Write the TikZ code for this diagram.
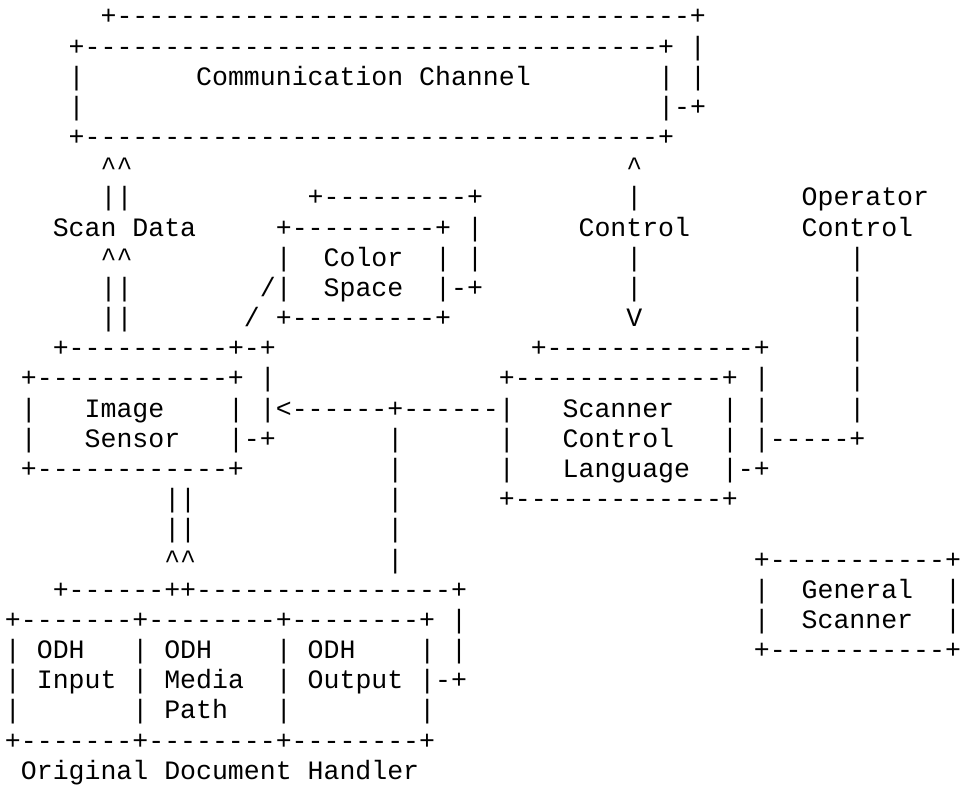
\documentclass[tikz,border=0pt]{standalone}
\usepackage{fontspec}
\setmonofont{Liberation Mono}
\usepackage{tikz}

% runs of ascii strokes
\newcommand\dashes[1]{\foreach\i in {1,...,#1}{-}}
\newcommand\caret{\textasciicircum}

\tikzset{asc/.style={anchor=base west, inner sep=0pt, outer sep=0pt,
    font=\ttfamily\fontsize{13.33pt}{15pt}\selectfont}}

\begin{document}
\begin{tikzpicture}[x=8pt, y=-15.15pt]

	\fill[white] (-0.3125,-0.825) rectangle (59.75,25.083);

	%--- COMMUNICATION CHANNEL --------------
	\node[asc] (cc0) at (6,0) {+\dashes{36}+};
	\node[asc] (cc1) at (4,1) {+\dashes{36}+ |};
	\node[asc] (cc2l) at (4,2) {|};
	\node[asc] (comm) at (12,2) {Communication Channel};
	\node[asc] (cc2r) at (41,2) {| |};
	\node[asc] (cc3l) at (4,3) {|};
	\node[asc] (cc3r) at (41,3) {|-+};
	\node[asc] (cc4) at (4,4) {+\dashes{36}+};

	%--- SCAN DATA --------------------------
	\node[asc] (sd5) at (6,5) {\caret\caret};
	\node[asc] (sd6) at (6,6) {||};
	\node[asc] (scandata) at (3,7) {Scan Data};
	\node[asc] (sd8) at (6,8) {\caret\caret};
	\node[asc] (sd9) at (6,9) {||};
	\node[asc] (sd10) at (6,10) {||};

	%--- COLOR SPACE ------------------------
	\node[asc] (cs6) at (19,6) {+\dashes{9}+};
	\node[asc] (cs7) at (17,7) {+\dashes{9}+ |};
	\node[asc] (cs8l) at (17,8) {|};
	\node[asc] (color) at (20,8) {Color};
	\node[asc] (cs8r) at (27,8) {| |};
	\node[asc] (cs9l) at (16,9) {/|};
	\node[asc] (space) at (20,9) {Space};
	\node[asc] (cs9r) at (27,9) {|-+};
	\node[asc] (cs10) at (15,10) {/ +\dashes{9}+};

	%--- CONTROL ----------------------------
	\node[asc] (ct5) at (39,5) {\caret};
	\node[asc] (ct6) at (39,6) {|};
	\node[asc] (control) at (36,7) {Control};
	\node[asc] (ct8) at (39,8) {|};
	\node[asc] (ct9) at (39,9) {|};
	\node[asc] (ct10) at (39,10) {V};

	% Operator control
	\node[asc] (operator) at (50,6) {Operator};
	\node[asc] (opcontrol) at (50,7) {Control};
	\foreach \r in {8,...,13}
		\node[asc] (op\r) at (53,\r) {|};

	%--- IMAGE SENSOR -----------------------
	\node[asc] (is11) at (3,11) {+\dashes{10}+-+};
	\node[asc] (is12) at (1,12) {+\dashes{12}+ |};
	\node[asc] (is13l) at (1,13) {|};
	\node[asc] (image) at (5,13) {Image};
	\node[asc] (is13r) at (14,13) {| |<\dashes{6}+\dashes{6}|};
	\node[asc] (is14l) at (1,14) {|};
	\node[asc] (sensor) at (5,14) {Sensor};
	\node[asc] (is14r) at (14,14) {|-+};
	\node[asc] (is15) at (1,15) {+\dashes{12}+};

	% Line down to the document handler
	\foreach \r in {14,...,18}
		\node[asc] (dn\r) at (24,\r) {|};

	% Arrow up from the document handler
	\node[asc] (up16) at (10,16) {||};
	\node[asc] (up17) at (10,17) {||};
	\node[asc] (up18) at (10,18) {\caret\caret};

	%--- SCANNER CONTROL LANGUAGE -----------
	\node[asc] (sc11) at (33,11) {+\dashes{13}+};
	\node[asc] (sc12) at (31,12) {+\dashes{13}+ |};
	\node[asc] (scanner) at (35,13) {Scanner};
	\node[asc] (sc13r) at (45,13) {| |};
	\node[asc] (sc14l) at (31,14) {|};
	\node[asc] (sclctl) at (35,14) {Control};
	\node[asc] (sc14r) at (45,14) {| |\dashes{5}+};
	\node[asc] (sc15l) at (31,15) {|};
	\node[asc] (language) at (35,15) {Language};
	\node[asc] (sc15r) at (45,15) {|-+};
	\node[asc] (sc16) at (31,16) {+\dashes{13}+};

	%--- GENERAL SCANNER --------------------
	\node[asc] (gs18) at (47,18) {+\dashes{11}+};
	\node[asc] (gs19l) at (47,19) {|};
	\node[asc] (general) at (50,19) {General};
	\node[asc] (gs19r) at (59,19) {|};
	\node[asc] (gs20l) at (47,20) {|};
	\node[asc] (genscanner) at (50,20) {Scanner};
	\node[asc] (gs20r) at (59,20) {|};
	\node[asc] (gs21) at (47,21) {+\dashes{11}+};

	%--- ORIGINAL DOCUMENT HANDLER ----------
	\node[asc] (od19) at (3,19) {+\dashes{6}++\dashes{16}+};
	\node[asc] (od20) at (0,20) {+\dashes{7}+\dashes{8}+\dashes{8}+ |};
	\foreach \c in {0,8,17}
		\foreach \r in {21,22,23}
			\node[asc] (od\c-\r) at (\c,\r) {|};
	\node[asc] (odhin) at (2,21) {ODH};
	\node[asc] (input) at (2,22) {Input};
	\node[asc] (odhmedia) at (10,21) {ODH};
	\node[asc] (media) at (10,22) {Media};
	\node[asc] (path) at (10,23) {Path};
	\node[asc] (odhout) at (19,21) {ODH};
	\node[asc] (output) at (19,22) {Output};
	\node[asc] (od21r) at (26,21) {| |};
	\node[asc] (od22r) at (26,22) {|-+};
	\node[asc] (od23r) at (26,23) {|};
	\node[asc] (od24) at (0,24) {+\dashes{7}+\dashes{8}+\dashes{8}+};
	\node[asc] (odh) at (1,25) {Original Document Handler};

\end{tikzpicture}
\end{document}
